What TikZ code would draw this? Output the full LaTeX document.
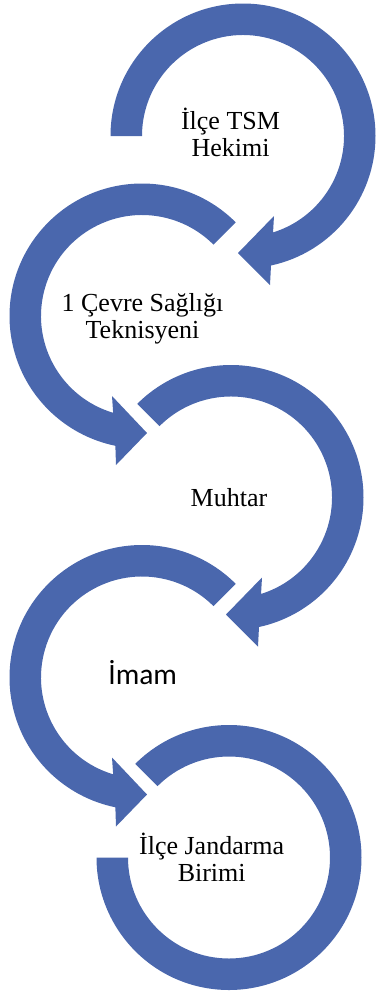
\documentclass[tikz,border=0pt]{standalone}
\usepackage{fontspec}
\setmainfont{Liberation Serif}
\newfontfamily\calfont{Carlito}
\definecolor{arcblue}{RGB}{74,103,173}
\begin{document}
\begin{tikzpicture}[x=1pt,y=1pt,
  band/.style={fill=arcblue},
  lbl/.style={font=\fontsize{26}{27}\selectfont, align=center, inner sep=0pt, anchor=base}]
\useasboundingbox (0,0) rectangle (376,-994);
\coordinate (c1) at (243,-136);
\coordinate (c2) at (142,-316);
\coordinate (c3) at (231,-497.5);
\coordinate (c4) at (142,-677.5);
\coordinate (c5) at (229,-857.5);
% clockwise arrows
\fill[band, shift={(c1)}] (180:132.5) arc[start angle=180,end angle=-77.8,radius=132.5]
  -- (27,-149) -- (-5,-117) -- (31,-80) -- (-72.7:101)
  arc[start angle=-72.7,end angle=180,radius=101] -- cycle;
\fill[band, shift={(c3)}] (135:132.5) arc[start angle=135,end angle=-77.8,radius=132.5]
  -- (27,-149) -- (-5,-117) -- (31,-80) -- (-72.7:101)
  arc[start angle=-72.7,end angle=135,radius=101] -- cycle;
% counterclockwise arrows
\fill[band, shift={(c2)}] (45:132.5) arc[start angle=45,end angle=258.4,radius=132.5]
  -- (-26,-149) -- (5,-117) -- (-30,-80) -- (253.4:101)
  arc[start angle=253.4,end angle=45,radius=101] -- cycle;
\fill[band, shift={(c4)}] (45:132.5) arc[start angle=45,end angle=258.4,radius=132.5]
  -- (-26,-149) -- (5,-117) -- (-30,-80) -- (253.4:101)
  arc[start angle=253.4,end angle=45,radius=101] -- cycle;
% last ring
\fill[band, shift={(c5)}] (135:132.5) arc[start angle=135,end angle=-180,radius=132.5]
  -- (-180:101) arc[start angle=-180,end angle=135,radius=101] -- cycle;
% labels (base = baseline of last line)
\node[lbl] (t1) at (230.5,-156.7) {İlçe TSM\\Hekimi};
\node[lbl] (t2) at (142.5,-338.3) {1 Çevre Sağlığı\\Teknisyeni};
\node[lbl] (t3) at (229,-506.7) {Muhtar};
\node[lbl, font=\calfont\fontsize{29.5}{31}\selectfont] (t4) at (142.7,-684) {İmam};
\node[lbl] (t5) at (211.7,-881) {İlçe Jandarma\\Birimi};
\end{tikzpicture}
\end{document}
